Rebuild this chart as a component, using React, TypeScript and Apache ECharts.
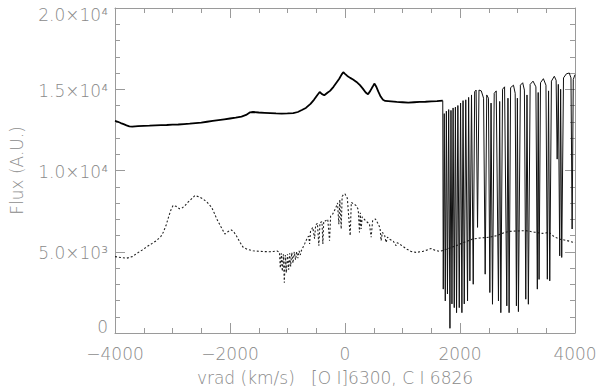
import React, { useEffect, useRef } from "react";
import * as echarts from "echarts";

// ---- data ----
const xRange = [-4000, 4000];
const yRange = [0, 20000];
const yTickLabels: Record<number, string> = {
  0: "0",
  5000: "5.0×10³",
  10000: "1.0×10⁴",
  15000: "1.5×10⁴",
  20000: "2.0×10⁴",
};
const xTitle = "vrad (km/s)   [O I]6300, C I 6826";
const yTitle = "Flux (A.U.)";

// upper spectrum, smooth part (-4000 .. 1700 km/s)
const upperContinuum: [number, number][] = [
  [-4000, 13050], [-3950, 13000], [-3900, 12920], [-3850, 12850], [-3800, 12780],
  [-3750, 12720], [-3700, 12700], [-3650, 12720], [-3600, 12730], [-3500, 12750],
  [-3400, 12760], [-3300, 12780], [-3200, 12790], [-3100, 12800], [-3000, 12820],
  [-2900, 12830], [-2800, 12860], [-2700, 12880], [-2600, 12920], [-2500, 12950],
  [-2400, 13000], [-2300, 13050], [-2200, 13100], [-2100, 13150], [-2000, 13200],
  [-1900, 13250], [-1800, 13320], [-1720, 13420], [-1650, 13580], [-1600, 13600],
  [-1500, 13570], [-1400, 13550], [-1300, 13530], [-1200, 13510], [-1100, 13500],
  [-1000, 13510], [-900, 13530], [-820, 13600], [-750, 13720], [-680, 13850],
  [-600, 14100], [-540, 14350], [-480, 14650], [-440, 14830], [-400, 14700],
  [-360, 14630], [-300, 14800], [-260, 14900], [-200, 15150], [-150, 15400],
  [-100, 15650], [-60, 15900], [-30, 16050], [0, 15950], [40, 15820],
  [90, 15700], [140, 15600], [200, 15450], [260, 15250], [310, 15040],
  [360, 14800], [400, 14690], [440, 14900], [480, 15150], [510, 15350],
  [545, 15150], [580, 14850], [620, 14550], [660, 14350], [700, 14280],
  [800, 14250], [900, 14220], [1000, 14200], [1100, 14180], [1200, 14200],
  [1300, 14220], [1400, 14230], [1500, 14250], [1600, 14270], [1700, 14300],
];

// upper spectrum, telluric absorption region (1700 .. 4000 km/s)
const upperTelluric: [number, number][] = [
  [1700, 14300], [1709, 2700], [1726, 13500], [1744, 1975], [1763, 13650],
  [1782, 2400], [1803, 13750], [1825, 290], [1843, 13700], [1860, 1790],
  [1880, 13850], [1900, 1560], [1920, 13900], [1940, 1250], [1963, 14000],
  [1987, 1560], [2010, 14150], [2033, 1250], [2053, 14300], [2074, 1790],
  [2100, 14350], [2131, 1975], [2150, 14500], [2172, 3210], [2200, 14650],
  [2230, 3000], [2255, 14850], [2280, 14950], [2305, 6500], [2330, 14950],
  [2370, 14900], [2410, 14450], [2438, 3620], [2465, 14650], [2495, 14450],
  [2519, 2490], [2540, 14150], [2565, 1770], [2595, 14750], [2630, 14900],
  [2669, 1975], [2690, 14250], [2710, 1250], [2740, 15000], [2775, 15150],
  [2814, 1670], [2834, 14450], [2854, 1250], [2880, 15100], [2930, 15250],
  [2960, 14750], [2981, 1670], [2998, 14450], [3016, 1315], [3050, 15250],
  [3090, 15400], [3120, 14950], [3144, 2080], [3165, 14650], [3189, 1770],
  [3220, 15300], [3270, 15500], [3320, 15150], [3345, 2700], [3360, 14800],
  [3375, 3300], [3400, 15400], [3450, 15650], [3495, 15250], [3519, 3310],
  [3540, 14900], [3561, 3210], [3590, 15500], [3640, 15800], [3672, 15550],
  [3690, 10700], [3710, 15300], [3734, 4750], [3750, 15000], [3769, 4650],
  [3800, 15700], [3850, 15950], [3900, 16000], [3930, 15700], [3950, 6400],
  [3970, 15600], [4000, 15900],
];

// lower spectrum (dashed)
const lowerSpectrum: [number, number][] = [
  [-4000, 4700], [-3900, 4650], [-3800, 4600], [-3700, 4700], [-3620, 4900],
  [-3530, 5100], [-3450, 5300], [-3360, 5500], [-3280, 5680], [-3200, 5950],
  [-3160, 6200], [-3110, 6650], [-3070, 7120], [-3030, 7550], [-2990, 7850],
  [-2940, 7800], [-2880, 7650], [-2840, 7670], [-2780, 7850], [-2730, 8050],
  [-2670, 8250], [-2610, 8460], [-2540, 8380], [-2470, 8250], [-2400, 8050],
  [-2320, 7740], [-2270, 7350], [-2230, 7020], [-2160, 6550], [-2090, 6090],
  [-2030, 6250], [-1975, 6340], [-1930, 6200], [-1890, 5990], [-1830, 5600],
  [-1770, 5270], [-1700, 5150], [-1600, 5060], [-1500, 5030], [-1400, 5010],
  [-1310, 5000], [-1250, 5020], [-1180, 5050], [-1140, 4960],
  [-1125, 4000], [-1108, 4900], [-1090, 3800], [-1072, 4850], [-1055, 3100],
  [-1038, 4800], [-1020, 3700], [-1000, 4850], [-980, 3900], [-962, 4900],
  [-945, 4100], [-925, 4950], [-905, 4300], [-882, 5000], [-860, 4500],
  [-840, 5000], [-820, 4600], [-798, 5050], [-777, 4800], [-760, 5060],
  [-700, 5500], [-650, 5900], [-630, 5950], [-616, 5480], [-600, 6250],
  [-560, 6500], [-529, 5800], [-510, 6650], [-480, 6750], [-455, 5370],
  [-435, 6800], [-400, 6850], [-385, 5480], [-370, 6880], [-340, 6900],
  [-300, 7000], [-269, 5680], [-250, 7200], [-212, 7330], [-160, 7700],
  [-130, 8000], [-107, 6700], [-90, 8200], [-66, 6400], [-50, 8400],
  [-20, 8550], [0, 8560], [40, 8300], [90, 5990], [110, 8040],
  [150, 7950], [194, 7840], [230, 7600], [252, 6190], [266, 7400],
  [281, 6400], [300, 7150], [360, 6900], [425, 6710], [455, 5890],
  [480, 6900], [529, 7020], [580, 6700], [610, 6450], [628, 5680],
  [650, 6200], [690, 6000], [715, 5570], [740, 5900], [772, 5780],
  [840, 5650], [888, 5370], [910, 5550], [946, 5480], [1000, 5350],
  [1080, 5150], [1149, 5020], [1235, 4960], [1350, 5020], [1420, 5100],
  [1496, 5200], [1560, 5100], [1640, 5020], [1720, 5100], [1800, 5200],
  [1929, 5370], [2050, 5550], [2218, 5780], [2350, 5850], [2507, 5890],
  [2650, 6000], [2750, 6150], [2854, 6250], [3000, 6280], [3144, 6300],
  [3300, 6200], [3432, 6130], [3548, 6190], [3630, 5950], [3722, 5780],
  [3850, 5700], [4000, 5550],
];

const AXIS_COLOR = "#9a9a9a";
const TEXT_COLOR = "#8a8a8a";
const FONT = "'DejaVu Sans', sans-serif";

export default function App() {
  const ref = useRef<HTMLDivElement>(null);

  useEffect(() => {
    if (!ref.current) return;
    const chart = echarts.init(ref.current, undefined, { renderer: "svg" });

    const tickCommon = {
      axisLine: { show: true, onZero: false, lineStyle: { color: AXIS_COLOR, width: 1 } },
      axisTick: { show: true, inside: true, length: 10, lineStyle: { color: AXIS_COLOR } },
      minorTick: { show: true, length: 5, lineStyle: { color: AXIS_COLOR } },
      splitLine: { show: false },
      minorSplitLine: { show: false },
    };
    const labelText = {
      color: TEXT_COLOR,
      fontSize: 17,
      fontFamily: FONT,
      fontWeight: 200 as any,
    };

    const option: echarts.EChartsOption = {
      animation: false,
      backgroundColor: "#ffffff",
      grid: { left: 115, right: 25, top: 8, bottom: 58, containLabel: false },
      xAxis: [
        {
          type: "value",
          min: xRange[0],
          max: xRange[1],
          interval: 2000,
          position: "bottom",
          ...tickCommon,
          minorTick: { ...tickCommon.minorTick, splitNumber: 4 },
          axisLabel: {
            ...labelText,
            margin: 12,
            formatter: (v: number) => (v < 0 ? "−" + Math.abs(v) : String(v)),
          },
          name: xTitle,
          nameLocation: "middle",
          nameGap: 36,
          nameTextStyle: { ...labelText, padding: [0, 20, 0, 0] },
        },
        {
          type: "value",
          min: xRange[0],
          max: xRange[1],
          interval: 2000,
          position: "top",
          ...tickCommon,
          minorTick: { ...tickCommon.minorTick, splitNumber: 4 },
          axisLabel: { show: false },
        },
      ],
      yAxis: [
        {
          type: "value",
          min: yRange[0],
          max: yRange[1],
          interval: 5000,
          position: "left",
          ...tickCommon,
          minorTick: { ...tickCommon.minorTick, splitNumber: 5 },
          axisLabel: {
            ...labelText,
            margin: 7,
            formatter: (v: number) => {
              const s = yTickLabels[v] ?? String(v);
              if (v === yRange[1]) return "{t|" + s + "}";
              if (v === yRange[0]) return "{b|" + s + "}";
              return "{m|" + s + "}";
            },
            rich: {
              t: { ...labelText, padding: [14, 0, 0, 0] },
              b: { ...labelText, padding: [0, 0, 12, 0] },
              m: { ...labelText, padding: [3, 0, 0, 0] },
            },
          },
          name: yTitle,
          nameLocation: "middle",
          nameGap: 90,
          nameTextStyle: { ...labelText },
        },
        {
          type: "value",
          min: yRange[0],
          max: yRange[1],
          interval: 5000,
          position: "right",
          ...tickCommon,
          minorTick: { ...tickCommon.minorTick, splitNumber: 5 },
          axisLabel: { show: false },
        },
      ],
      series: [
        {
          type: "line",
          xAxisIndex: 0,
          yAxisIndex: 0,
          data: lowerSpectrum,
          showSymbol: false,
          symbol: "none",
          lineStyle: { color: "#222222", width: 1.1, type: [2, 2] },
          z: 2,
        },
        {
          type: "line",
          xAxisIndex: 0,
          yAxisIndex: 0,
          data: upperContinuum,
          showSymbol: false,
          symbol: "none",
          lineStyle: { color: "#000000", width: 1.8 },
          z: 3,
        },
        {
          type: "line",
          xAxisIndex: 0,
          yAxisIndex: 0,
          data: upperTelluric,
          showSymbol: false,
          symbol: "none",
          lineStyle: { color: "#111111", width: 1 },
          z: 3,
        },
      ],
    };

    chart.setOption(option);
    return () => chart.dispose();
  }, []);

  return (
    <div
      ref={ref}
      style={{ position: "absolute", left: 0, top: 0, width: 600, height: 391, background: "#fff" }}
    />
  );
}
